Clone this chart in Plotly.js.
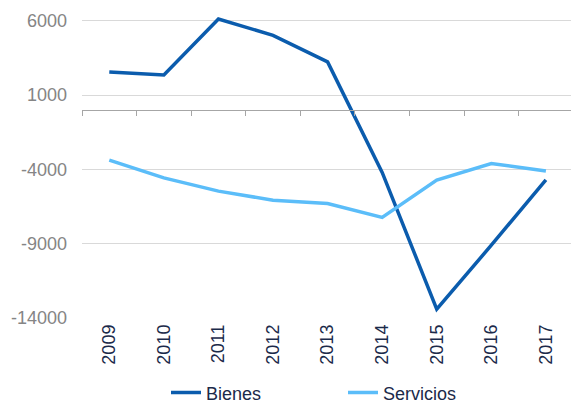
<!DOCTYPE html>
<html><head><meta charset="utf-8">
<script src="https://cdn.plot.ly/plotly-3.0.1.min.js"></script>
<style>html,body{margin:0;padding:0;background:#fff}#chart{width:571px;height:405px}</style>
</head><body><div id="chart"></div>
<script>
const years = ["2009","2010","2011","2012","2013","2014","2015","2016","2017"];
const bienes = [2560, 2360, 6130, 5030, 3240, -4200, -13400, -9100, -4700];
const servicios = [-3370, -4570, -5460, -6070, -6290, -7230, -4720, -3600, -4110];
const yTicks = [6000, 1000, -4000, -9000, -14000];

const yMin = -14000, yMax = 6600;
const zeroPos = (0 - yMin) / (yMax - yMin);

const traces = [
  {x: years, y: bienes, type: 'scatter', mode: 'lines', name: 'Bienes',
   line: {color: '#0B5CAD', width: 3.5}, xaxis: 'x', yaxis: 'y'},
  {x: years, y: servicios, type: 'scatter', mode: 'lines', name: 'Servicios',
   line: {color: '#5BBDF9', width: 3.5}, xaxis: 'x', yaxis: 'y'},
  {x: years, y: servicios, type: 'scatter', mode: 'lines', showlegend: false,
   hoverinfo: 'skip', line: {color: 'rgba(0,0,0,0)', width: 0}, xaxis: 'x2', yaxis: 'y'}
];

const layout = {
  width: 571, height: 405,
  margin: {l: 82, r: 0, t: 12, b: 87, autoexpand: false},
  paper_bgcolor: '#fff', plot_bgcolor: '#fff',
  font: {family: 'Liberation Sans, Arial, sans-serif'},
  showlegend: true,
  legend: {orientation: 'h', xref: 'container', yref: 'container',
           x: 166/571, xanchor: 'left', y: 0.03, yanchor: 'middle',
           entrywidth: 132, entrywidthmode: 'pixels',
           font: {size: 18, color: '#1B2A4A'}},
  xaxis: {type: 'category', range: [-0.5, 8.46], showgrid: false, showline: false,
          zeroline: false, ticks: '', tickangle: -90, automargin: false,
          ticklabelstandoff: 2,
          tickfont: {size: 18, color: '#1B2A4A'}},
  xaxis2: {type: 'category', range: [-0.5, 8.46], overlaying: 'x', anchor: 'free',
           position: zeroPos, side: 'bottom', showgrid: false, showline: true,
           linecolor: '#A6A6A6', linewidth: 1, ticks: 'outside', tickson: 'boundaries',
           ticklen: 5, tickcolor: '#A6A6A6', showticklabels: false, zeroline: false,
           automargin: false},
  yaxis: {range: [yMin, yMax], tickvals: yTicks, ticktext: yTicks.map(String),
          showgrid: true, gridcolor: '#D9D9D9', gridwidth: 1, zeroline: false,
          showline: false, ticks: '', ticklabelstandoff: 14, automargin: false,
          tickfont: {size: 18, color: '#858585'}}
};

Plotly.newPlot('chart', traces, layout, {displayModeBar: false, staticPlot: true});
</script></body></html>
